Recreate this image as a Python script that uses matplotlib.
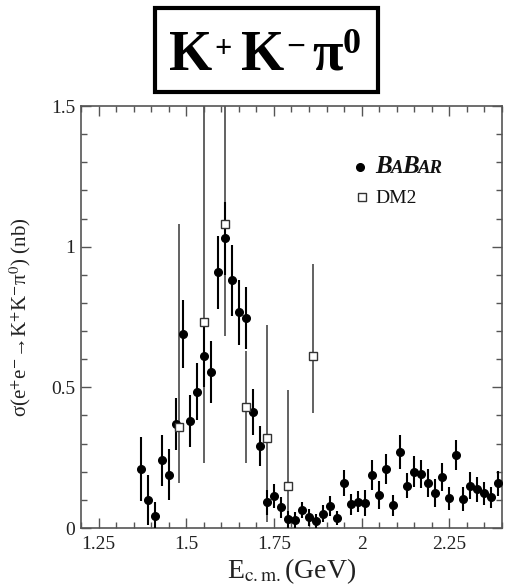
import matplotlib.pyplot as plt
import matplotlib.transforms as mtransforms
from matplotlib.patches import Rectangle
from matplotlib.ticker import MultipleLocator, FormatStrFormatter

plt.rcParams['font.family'] = ['Liberation Serif', 'DejaVu Serif']
plt.rcParams['mathtext.fontset'] = 'stix'

# BaBar points: E_cm (GeV), cross section (nb), error (nb)
babar_e = [1.37, 1.39, 1.41, 1.43, 1.45, 1.47, 1.49, 1.51, 1.53, 1.55,
           1.57, 1.59, 1.61, 1.63, 1.65, 1.67, 1.69, 1.71, 1.73, 1.75,
           1.77, 1.79, 1.81, 1.83, 1.85, 1.87, 1.89, 1.91, 1.93, 1.95,
           1.97, 1.99, 2.01, 2.03, 2.05, 2.07, 2.09, 2.11, 2.13, 2.15,
           2.17, 2.19, 2.21, 2.23, 2.25, 2.27, 2.29, 2.31, 2.33, 2.35,
           2.37, 2.39]
babar_sigma = [0.21, 0.10, 0.043, 0.24, 0.19, 0.37, 0.69, 0.38, 0.485, 0.61,
               0.553, 0.909, 1.03, 0.88, 0.767, 0.747, 0.412, 0.291, 0.091, 0.114,
               0.073, 0.031, 0.028, 0.064, 0.038, 0.026, 0.051, 0.078, 0.034, 0.159,
               0.084, 0.094, 0.090, 0.188, 0.117, 0.210, 0.081, 0.269, 0.150, 0.200,
               0.191, 0.161, 0.123, 0.181, 0.106, 0.260, 0.103, 0.150, 0.138, 0.123,
               0.109, 0.159]
babar_err = [0.115, 0.09, 0.05, 0.09, 0.09, 0.093, 0.12, 0.093, 0.10, 0.11,
             0.11, 0.13, 0.13, 0.126, 0.115, 0.11, 0.083, 0.07, 0.045, 0.043,
             0.038, 0.03, 0.03, 0.03, 0.03, 0.025, 0.03, 0.035, 0.025, 0.047,
             0.037, 0.038, 0.046, 0.052, 0.05, 0.053, 0.037, 0.06, 0.044, 0.055,
             0.049, 0.05, 0.05, 0.049, 0.041, 0.053, 0.041, 0.048, 0.044, 0.041,
             0.038, 0.044]

# DM2 points
dm2_e = [1.48, 1.55, 1.61, 1.67, 1.73, 1.79, 1.86]
dm2_sigma = [0.359, 0.731, 1.081, 0.430, 0.321, 0.150, 0.610]
dm2_err_lo = [0.20, 0.50, 0.40, 0.20, 0.30, 0.15, 0.20]
dm2_err_hi = [0.72, 0.90, 0.60, 0.20, 0.40, 0.34, 0.33]

xticks = [1.25, 1.5, 1.75, 2, 2.25]
yticks = [0, 0.5, 1, 1.5]

fig = plt.figure(figsize=(5.09, 5.87), dpi=100)
ax = fig.add_axes([0.1591, 0.1005, 0.8271, 0.7189])
px = mtransforms.IdentityTransform()

ax.errorbar(babar_e, babar_sigma, yerr=babar_err, fmt='o', color='black',
            ms=5.5, elinewidth=1.5, capsize=0, zorder=3)
ax.errorbar(dm2_e, dm2_sigma, yerr=[dm2_err_lo, dm2_err_hi], fmt='none',
            ecolor='#555555', elinewidth=1.3, capsize=0, zorder=2)
ax.plot(dm2_e, dm2_sigma, 's', ms=5.5, mfc='white', mec='#333333',
        mew=1.0, zorder=4)

ax.set_xlim(1.2, 2.4)
ax.set_ylim(0, 1.5)
ax.set_xticks(xticks)
ax.set_yticks(yticks)
ax.xaxis.set_minor_locator(MultipleLocator(0.05))
ax.yaxis.set_minor_locator(MultipleLocator(0.1))
ax.xaxis.set_major_formatter(FormatStrFormatter('%g'))
ax.yaxis.set_major_formatter(FormatStrFormatter('%g'))
ax.tick_params(which='both', direction='in', top=True, right=True,
               color='#555555', width=1.0, labelsize=14, labelcolor='#222222')
ax.tick_params(axis='x', which='major', length=7.5, pad=6)
ax.tick_params(axis='y', which='major', length=7.5, pad=4)
ax.tick_params(which='minor', length=4)
for s in ax.spines.values():
    s.set_color('#555555')
    s.set_linewidth(1.2)

ax.set_xlabel(r'E$_{\rm c.m.}$(GeV)', fontsize=20, color='#222222', labelpad=2)
ax.set_ylabel('\u03c3(e$^{+}$e$^{-}$\u2192K$^{+}$K$^{-}$\u03c0$^{0}$) (nb)',
              fontsize=15, color='#222222')
ax.yaxis.set_label_coords(-0.114, 0.5)

# legend, drawn by hand
ax.plot([0.663], [0.855], 'o', color='black', ms=5.5, transform=ax.transAxes,
        clip_on=False)
ax.plot([0.668], [0.784], 's', ms=5.5, mfc='white', mec='#333333', mew=1.0,
        transform=ax.transAxes, clip_on=False)
renderer = fig.canvas.get_renderer()
xpos = 375
for piece, size in [('B', 18), ('A', 13.5), ('B', 18), ('AR', 13.5)]:
    t = fig.text(xpos, 414, piece, transform=px, fontsize=size,
                 fontweight='bold', fontstyle='italic', color='#111111',
                 va='baseline', ha='left')
    xpos = t.get_window_extent(renderer).x1 - 1
fig.text(375, 384, 'DM2', transform=px, fontsize=14, color='#111111',
         va='baseline', ha='left')

# boxed title
fig.add_artist(Rectangle((155, 495), 223, 84, transform=px, fill=False,
                         lw=3, edgecolor='black'))
title_kw = dict(transform=px, fontweight='bold', color='black', ha='left')
fig.text(169, 517, 'K', fontsize=40, va='baseline', **title_kw)
fig.text(214, 538, '+', fontsize=22, va='center', **title_kw)
fig.text(241, 517, 'K', fontsize=40, va='baseline', **title_kw)
fig.text(286, 540, '\u2212', fontsize=24, va='center', **title_kw)
fig.text(312, 517, '\u03c0', fontsize=40, va='baseline', **title_kw)
fig.text(343, 534, '0', fontsize=26, va='baseline', **title_kw)

fig.savefig('out.png', dpi=100)
